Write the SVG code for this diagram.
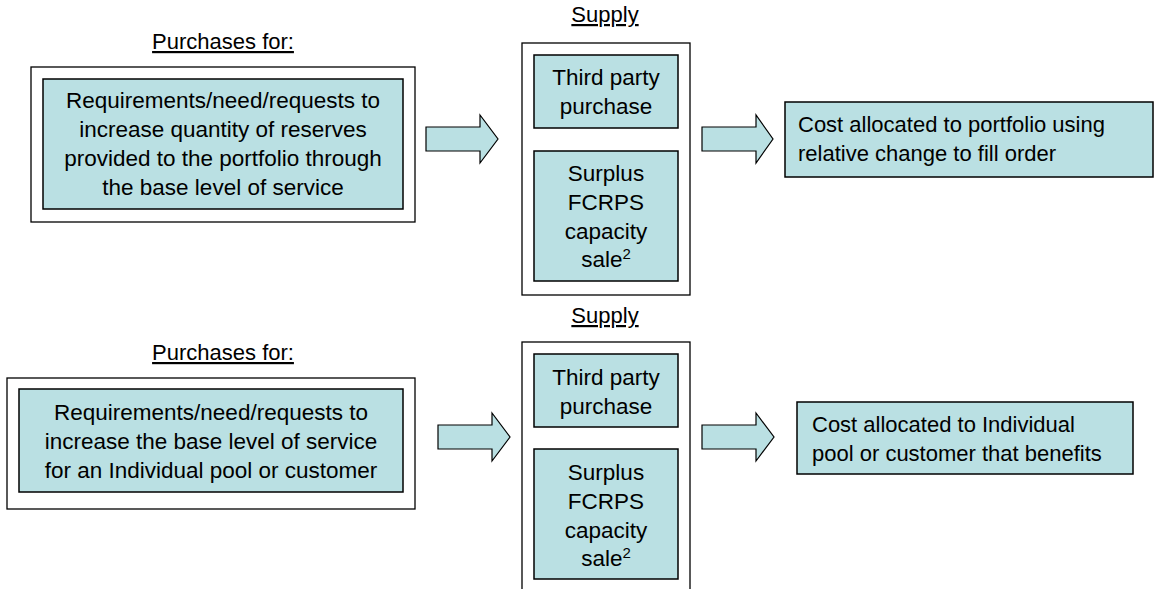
<svg xmlns="http://www.w3.org/2000/svg" width="1154" height="589" viewBox="0 0 1154 589">
<style>
.frame{fill:#ffffff;stroke:#000000;stroke-width:1.3}
.box{fill:#BAE0E3;stroke:#000000;stroke-width:1.5}
.arrow{fill:#BAE0E3;stroke:#000000;stroke-width:1.2;stroke-linejoin:miter}
text{font-family:"Liberation Sans",Arial,sans-serif;font-size:22.5px;fill:#000000}
.c{text-anchor:middle}
.title{text-decoration:underline;font-size:22px}
.r{font-size:22px}
.sup{font-size:15px}
</style>
<rect width="1154" height="589" fill="#ffffff"/>

<g id="top-purchases">
<text class="c title" x="223" y="49">Purchases for:</text>
<rect class="frame" x="31" y="67" width="384" height="155"/>
<rect class="box" x="43" y="79" width="360" height="130"/>
<text class="c" x="223" y="108">Requirements/need/requests to</text>
<text class="c" x="223" y="137">increase quantity of reserves</text>
<text class="c" x="223" y="166">provided to the portfolio through</text>
<text class="c" x="223" y="195">the base level of service</text>
</g>

<g id="top-supply">
<text class="c title" x="605" y="22">Supply</text>
<rect class="frame" x="522" y="43" width="168" height="252"/>
<g id="top-third-party">
<rect class="box" x="534" y="55" width="144" height="73"/>
<text class="c" x="606" y="85">Third party</text>
<text class="c" x="606" y="114">purchase</text>
</g>
<g id="top-surplus">
<rect class="box" x="534" y="151" width="144" height="130"/>
<text class="c" x="606" y="181">Surplus</text>
<text class="c" x="606" y="210">FCRPS</text>
<text class="c" x="606" y="239">capacity</text>
<text class="c" x="606" y="267">sale<tspan class="sup" dy="-8">2</tspan></text>
</g>
</g>

<g id="top-cost">
<rect class="box" x="785" y="102" width="368" height="75"/>
<text class="r" x="798" y="132">Cost allocated to portfolio using</text>
<text class="r" x="798" y="161">relative change to fill order</text>
</g>

<g id="bottom-purchases">
<text class="c title" x="223" y="360">Purchases for:</text>
<rect class="frame" x="7" y="378" width="408" height="131"/>
<rect class="box" x="19" y="389" width="384" height="103"/>
<text class="c" x="211" y="420">Requirements/need/requests to</text>
<text class="c" x="211" y="449">increase the base level of service</text>
<text class="c" x="211" y="478">for an Individual pool or customer</text>
</g>

<g id="bottom-supply">
<text class="c title" x="605" y="323">Supply</text>
<rect class="frame" x="522" y="342" width="168" height="252"/>
<g id="bottom-third-party">
<rect class="box" x="534" y="354" width="144" height="73"/>
<text class="c" x="606" y="385">Third party</text>
<text class="c" x="606" y="414">purchase</text>
</g>
<g id="bottom-surplus">
<rect class="box" x="534" y="449" width="144" height="130"/>
<text class="c" x="606" y="480">Surplus</text>
<text class="c" x="606" y="509">FCRPS</text>
<text class="c" x="606" y="538">capacity</text>
<text class="c" x="606" y="566">sale<tspan class="sup" dy="-8">2</tspan></text>
</g>
</g>

<g id="bottom-cost">
<rect class="box" x="797" y="402" width="336" height="72"/>
<text class="r" x="812" y="432">Cost allocated to Individual</text>
<text class="r" x="812" y="461">pool or customer that benefits</text>
</g>

<g id="connectors">
<polygon class="arrow" points="426,127 480,127 480,115 498,139 480,163 480,151 426,151"/>
<polygon class="arrow" points="702,127 756,127 756,115 773,139 756,163 756,151 702,151"/>
<polygon class="arrow" points="438,425 492,425 492,413 510,437 492,461 492,449 438,449"/>
<polygon class="arrow" points="702,425 756,425 756,413 774,437 756,461 756,449 702,449"/>
</g>
</svg>
